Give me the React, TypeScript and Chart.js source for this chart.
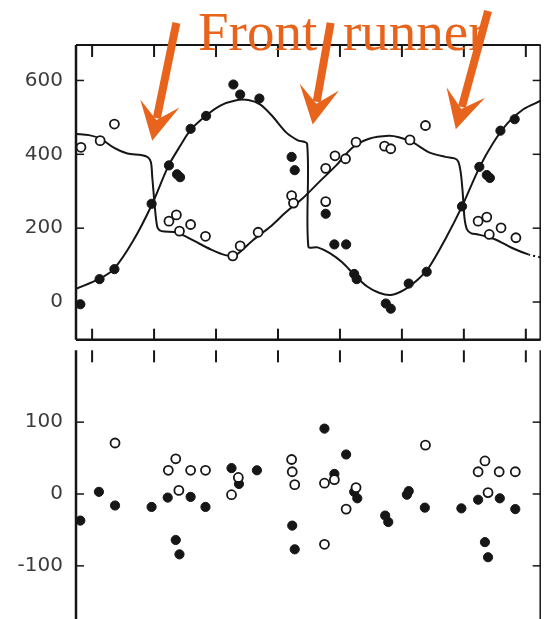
import React, { useEffect, useRef } from "react";
import { Chart, registerables } from "chart.js";

Chart.register(...registerables);

// ---- data (x in major-tick units, y in panel units) ----
const xTickValues = [0, 1, 2, 3, 4, 5, 6, 7];
const topTickValues = [0, 200, 400, 600];
const residualTickValues = [-100, 0, 100];

const curveAX = [-0.26, 0.11, 0.35, 0.66, 0.96, 1.23, 1.43, 1.59, 1.84, 2.07, 2.31, 2.52, 2.71, 2.9, 3.14, 3.32, 3.47, 3.49, 3.64, 3.83, 4.04, 4.23, 4.44, 4.63, 4.82, 5.03, 5.24, 5.43, 5.7, 5.97, 6.25, 6.47, 6.71, 6.96, 7.24];
const curveAY = [36, 62, 89, 165, 262, 368, 425, 466, 505, 532, 546, 547, 535, 505, 458, 438, 428, 150, 148, 133, 107, 74, 42, 25, 19, 32, 58, 92, 170, 259, 364, 430, 485, 522, 545];

const curveBX = [-0.26, -0.05, 0.14, 0.35, 0.57, 0.79, 0.9, 0.95, 0.97, 1.0, 1.03, 1.06, 1.12, 1.37, 1.64, 1.91, 2.15, 2.31, 2.6, 2.87, 3.14, 3.4, 3.67, 3.94, 4.2, 4.47, 4.79, 4.95, 5.17, 5.43, 5.7, 5.85, 5.91, 5.95, 5.98, 6.01, 6.05, 6.12, 6.23, 6.5, 6.77, 7.04, 7.24];
const curveBY = [455, 452, 442, 418, 402, 398, 392, 378, 340, 281, 228, 200, 192, 188, 166, 143, 127, 126, 168, 203, 245, 281, 326, 370, 418, 442, 450, 446, 433, 406, 393, 389, 380, 350, 299, 228, 197, 186, 183, 170, 147, 129, 121];
const curveBDottedFrom = 6.85;

const openTopX = [-0.18, 0.13, 0.36, 1.24, 1.36, 1.41, 1.59, 1.83, 2.27, 2.39, 2.68, 3.22, 3.25, 3.77, 3.77, 3.92, 4.09, 4.26, 4.72, 4.82, 5.13, 5.38, 6.23, 6.37, 6.41, 6.6, 6.84];
const openTopY = [419, 437, 482, 219, 236, 192, 210, 178, 125, 152, 189, 288, 268, 272, 362, 396, 388, 433, 422, 415, 439, 478, 219, 230, 183, 201, 174];

const filledTopX = [-0.19, 0.12, 0.36, 0.96, 1.24, 1.37, 1.42, 1.59, 1.84, 2.28, 2.39, 2.7, 3.22, 3.27, 3.77, 3.91, 4.1, 4.23, 4.27, 4.74, 4.82, 5.11, 5.4, 5.97, 6.25, 6.37, 6.42, 6.59, 6.82];
const filledTopY = [-6, 62, 89, 266, 370, 346, 338, 469, 504, 589, 562, 551, 393, 357, 239, 156, 156, 76, 62, -4, -18, 50, 82, 259, 366, 344, 336, 464, 495];

const openResX = [0.37, 1.35, 1.23, 1.59, 1.83, 1.4, 2.36, 2.25, 3.22, 3.23, 3.27, 3.75, 3.91, 4.26, 4.1, 3.75, 5.38, 6.39, 6.34, 6.23, 6.57, 6.83];
const openResY = [71, 49, 33, 33, 33, 5, 23, -1, 48, 31, 13, 15, 20, 9, -21, -70, 68, 2, 46, 31, 31, 31];

const filledResX = [0.11, 0.37, -0.19, 0.96, 1.22, 1.59, 1.83, 1.35, 1.41, 2.25, 2.37, 2.66, 3.23, 3.27, 3.75, 4.1, 3.91, 4.23, 4.28, 5.08, 5.11, 5.37, 4.73, 4.78, 5.96, 6.23, 6.58, 6.83, 6.34, 6.39];
const filledResY = [3, -16, -37, -18, -5, -4, -18, -64, -84, 36, 14, 33, -44, -77, 91, 55, 28, 3, -6, -1, 4, -19, -30, -39, -20, -8, -6, -21, -67, -88];

const annotationWords = ["Front", "runner"];
// arrows: tail and tip in data units of the top panel
const arrowTailX = [1.36, 3.85, 6.39];
const arrowTailY = [756, 756, 788];
const arrowTipX = [0.97, 3.56, 5.87];
const arrowTipY = [437, 481, 468];

// ---- styles ----
const INK = "#161616";
const ORANGE = "#E8641C";
const LABEL = "#3c3c3c";
const W = 547;

const pts = (xs: number[], ys: number[]) => xs.map((x, i) => ({ x, y: ys[i] }));

function makeFramePlugin(kind: "top" | "bottom", yTicks: number[]) {
  return {
    id: "frame-" + kind,
    afterDraw(chart: any) {
      const { ctx, chartArea: a, scales } = chart;
      const xs = scales.x;
      const ys = scales.y;
      ctx.save();
      ctx.strokeStyle = INK;
      ctx.lineCap = "butt";
      const line = (x1: number, y1: number, x2: number, y2: number, w: number) => {
        ctx.lineWidth = w;
        ctx.beginPath();
        ctx.moveTo(x1, y1);
        ctx.lineTo(x2, y2);
        ctx.stroke();
      };
      // frame
      line(a.left, a.top, a.left, a.bottom, 2.5);
      line(a.right - 0.5, a.top, a.right - 0.5, a.bottom, 1.5);
      if (kind === "top") {
        line(a.left, a.top, a.right, a.top, 1.8);
        line(a.left, a.bottom, a.right, a.bottom, 2.5);
      }
      // y ticks (inward, both sides)
      yTicks.forEach((v) => {
        const y = ys.getPixelForValue(v);
        line(a.left, y, a.left + 8, y, 1.5);
        line(a.right, y, a.right - 8, y, 1.5);
      });
      // x ticks
      xTickValues.forEach((t) => {
        const x = xs.getPixelForValue(t);
        if (kind === "top") {
          line(x, a.top, x, a.top + 12, 2);
          line(x, a.bottom - 11, x, a.bottom, 2);
        } else {
          line(x, a.top, x, a.top + 12, 2);
        }
      });
      ctx.restore();
    },
  };
}

const annotationPlugin = {
  id: "frontRunner",
  afterDraw(chart: any) {
    const { ctx, scales } = chart;
    const xs = scales.x;
    const ys = scales.y;
    ctx.save();
    ctx.fillStyle = ORANGE;
    ctx.font = '55px "Liberation Serif", serif';
    ctx.textBaseline = "alphabetic";
    ctx.textAlign = "left";
    ctx.fillText(annotationWords[0], 198, 50);
    ctx.fillText(annotationWords[1], 343, 50);
    ctx.strokeStyle = ORANGE;
    arrowTipX.forEach((_, i) => {
      const tx = xs.getPixelForValue(arrowTailX[i]);
      const ty = ys.getPixelForValue(arrowTailY[i]);
      const hx = xs.getPixelForValue(arrowTipX[i]);
      const hy = ys.getPixelForValue(arrowTipY[i]);
      const dx = hx - tx;
      const dy = hy - ty;
      const len = Math.hypot(dx, dy);
      const ux = dx / len;
      const uy = dy / len;
      const nx = -uy;
      const ny = ux;
      const L = 38;
      const Wd = 20;
      const N = 21;
      ctx.lineWidth = 8;
      ctx.beginPath();
      ctx.moveTo(tx, ty);
      ctx.lineTo(hx - ux * (N + 2), hy - uy * (N + 2));
      ctx.stroke();
      ctx.beginPath();
      ctx.moveTo(hx, hy);
      ctx.lineTo(hx - ux * L + nx * Wd, hy - uy * L + ny * Wd);
      ctx.lineTo(hx - ux * N, hy - uy * N);
      ctx.lineTo(hx - ux * L - nx * Wd, hy - uy * L - ny * Wd);
      ctx.closePath();
      ctx.fill();
    });
    ctx.restore();
  },
};

function yAxis(min: number, max: number, ticks: number[]) {
  return {
    type: "linear",
    min,
    max,
    afterBuildTicks: (s: any) => {
      s.ticks = ticks.map((v) => ({ value: v }));
    },
    afterFit: (s: any) => {
      s.width = 76;
      s.paddingTop = 0;
      s.paddingBottom = 0;
    },
    grid: { display: false, drawTicks: false },
    border: { display: false },
    ticks: {
      padding: 13,
      color: LABEL,
      font: { family: "DejaVu Sans", size: 20 },
    },
  };
}

const xAxis = { type: "linear", min: -0.26, max: 7.24, display: false };

const openStyle = {
  pointStyle: "circle",
  pointRadius: 4.5,
  pointBackgroundColor: "#ffffff",
  pointBorderColor: INK,
  pointBorderWidth: 1.8,
  showLine: false,
};
const filledStyle = {
  pointStyle: "circle",
  pointRadius: 4.6,
  pointBackgroundColor: INK,
  pointBorderColor: INK,
  pointBorderWidth: 1,
  showLine: false,
};

export default function App() {
  const topRef = useRef<HTMLCanvasElement>(null);
  const botRef = useRef<HTMLCanvasElement>(null);

  useEffect(() => {
    const top = new Chart(topRef.current as HTMLCanvasElement, {
      type: "scatter",
      data: {
        datasets: [
          { data: pts(openTopX, openTopY), ...openStyle } as any,
          { data: pts(filledTopX, filledTopY), ...filledStyle } as any,
          {
            type: "line",
            data: pts(curveAX, curveAY),
            borderColor: INK,
            borderWidth: 2,
            pointRadius: 0,
            tension: 0.3,
            fill: false,
          } as any,
          {
            type: "line",
            data: pts(curveBX, curveBY),
            borderColor: INK,
            borderWidth: 2,
            pointRadius: 0,
            tension: 0.3,
            fill: false,
            segment: {
              borderDash: (c: any) => (c.p0.parsed.x >= curveBDottedFrom ? [2, 3] : undefined),
            },
          } as any,
        ],
      },
      options: {
        animation: false,
        responsive: false,
        maintainAspectRatio: false,
        events: [],
        layout: { padding: { left: 0, right: 4, top: 45, bottom: 2 } },
        plugins: { legend: { display: false }, tooltip: { enabled: false } },
        scales: { x: xAxis as any, y: yAxis(-102, 696, topTickValues) as any },
      },
      plugins: [makeFramePlugin("top", topTickValues), annotationPlugin],
    });

    const bottom = new Chart(botRef.current as HTMLCanvasElement, {
      type: "scatter",
      data: {
        datasets: [
          { data: pts(openResX, openResY), ...openStyle } as any,
          { data: pts(filledResX, filledResY), ...filledStyle } as any,
        ],
      },
      options: {
        animation: false,
        responsive: false,
        maintainAspectRatio: false,
        events: [],
        layout: { padding: { left: 0, right: 4, top: 0, bottom: 0 } },
        plugins: { legend: { display: false }, tooltip: { enabled: false } },
        scales: { x: xAxis as any, y: yAxis(-200, 200, residualTickValues) as any },
      },
      plugins: [makeFramePlugin("bottom", residualTickValues)],
    });

    return () => {
      top.destroy();
      bottom.destroy();
    };
  }, []);

  return (
    <div
      style={{
        position: "fixed",
        left: 0,
        top: 0,
        width: W,
        height: 619,
        overflow: "hidden",
        background: "#ffffff",
      }}
    >
      <canvas
        ref={topRef}
        width={W}
        height={346}
        style={{ position: "absolute", left: 0, top: 0, display: "block" }}
      />
      <canvas
        ref={botRef}
        width={W}
        height={300}
        style={{ position: "absolute", left: 0, top: 344, display: "block" }}
      />
    </div>
  );
}
